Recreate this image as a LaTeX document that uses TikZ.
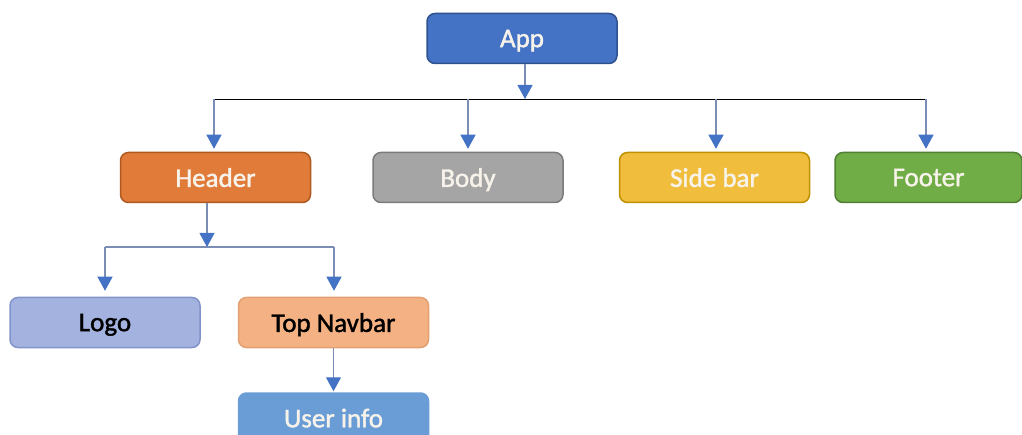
\documentclass[tikz,border=0pt]{standalone}
\usepackage{fontspec}
\setmainfont{Carlito}
\newfontfamily\boxfont{Carlito}[UprightFeatures={FakeBold=1.5}]
\usetikzlibrary{arrows.meta,calc}
\definecolor{appF}{HTML}{4472C4}\definecolor{appD}{HTML}{2F528F}
\definecolor{hdF}{HTML}{E07B39}\definecolor{hdD}{HTML}{AE5A21}
\definecolor{bdF}{HTML}{A5A5A5}\definecolor{bdD}{HTML}{7B7B7B}
\definecolor{sbF}{HTML}{F0BE3C}\definecolor{sbD}{HTML}{BF9000}
\definecolor{ftF}{HTML}{70AD47}\definecolor{ftD}{HTML}{507E32}
\definecolor{lgF}{HTML}{A3B2DE}\definecolor{lgD}{HTML}{8193C8}
\definecolor{nvF}{HTML}{F4B183}\definecolor{nvD}{HTML}{E3A173}
\definecolor{uiF}{HTML}{6A9DD6}\definecolor{uiD}{HTML}{6A9DD6}
\definecolor{txtW}{HTML}{F7F3EA}
\definecolor{arr}{HTML}{4472C4}\definecolor{stem}{HTML}{7C8DB5}
\tikzset{
  box/.style={rounded corners=8pt, line width=1.5pt, minimum width=#1, minimum height=50pt,
     inner sep=0pt, text depth=0pt, font=\boxfont\fontsize{27}{30}\selectfont},
  box/.default=190pt,
  bus/.style={draw=black, line width=0.9pt},
  drop/.style={draw=stem, line width=1.1pt, -{Triangle[length=14pt,width=15pt,fill=arr,color=arr]}},
}
\begin{document}
\begin{tikzpicture}[x=1pt,y=-1pt]
\useasboundingbox (0,0) rectangle (1022,435);
\clip (0,0) rectangle (1022,435);
\node[box, fill=appF, draw=appD, text=txtW] (app) at (522,38.5) {App};
\node[box, fill=hdF, draw=hdD, text=txtW] (header) at (215.5,177.5) {Header};
\node[box, fill=bdF, draw=bdD, text=txtW] (body) at (468,177.5) {Body};
\node[box, fill=sbF, draw=sbD, text=txtW] (sidebar) at (714.5,177.5) {Side bar};
\node[box=187pt, fill=ftF, draw=ftD, text=txtW] (footer) at (928.5,177.5) {Footer};
\node[box, fill=lgF, draw=lgD, text=black] (logo) at (105,322.5) {Logo};
\node[box, fill=nvF, draw=nvD, text=black] (navbar) at (333.5,322.5) {Top Navbar};
\node[box, fill=uiF, draw=uiD, text=txtW] (userinfo) at (333.5,418) {User info};
% top bus
\coordinate (t0) at (525,99);
\coordinate (t1) at (214,99);
\coordinate (t2) at (468,99);
\coordinate (t3) at (716,99);
\coordinate (t4) at (926,99);
\draw[bus] (t1) -- (t4);
\draw[drop] (app.south -| t0) -- (t0);
\draw[drop] (t1) -- ($(t1 |- header.north)+(0,-3)$);
\draw[drop] (t2) -- ($(t2 |- body.north)+(0,-3)$);
\draw[drop] (t3) -- ($(t3 |- sidebar.north)+(0,-3)$);
\draw[drop] (t4) -- ($(t4 |- footer.north)+(0,-3)$);
% lower bus
\coordinate (h0) at (207,247);
\coordinate (h1) at (105,247);
\coordinate (h2) at (334,247);
\draw[draw=stem, line width=1.1pt] (h1) -- (h2);
\draw[drop] (header.south -| h0) -- (h0);
\draw[drop] (h1) -- ($(h1 |- logo.north)+(0,-6)$);
\draw[drop] (h2) -- ($(h2 |- navbar.north)+(0,-6)$);
\draw[drop] (navbar.south) -- ($(userinfo.north)+(0,-1)$);
\end{tikzpicture}
\end{document}
